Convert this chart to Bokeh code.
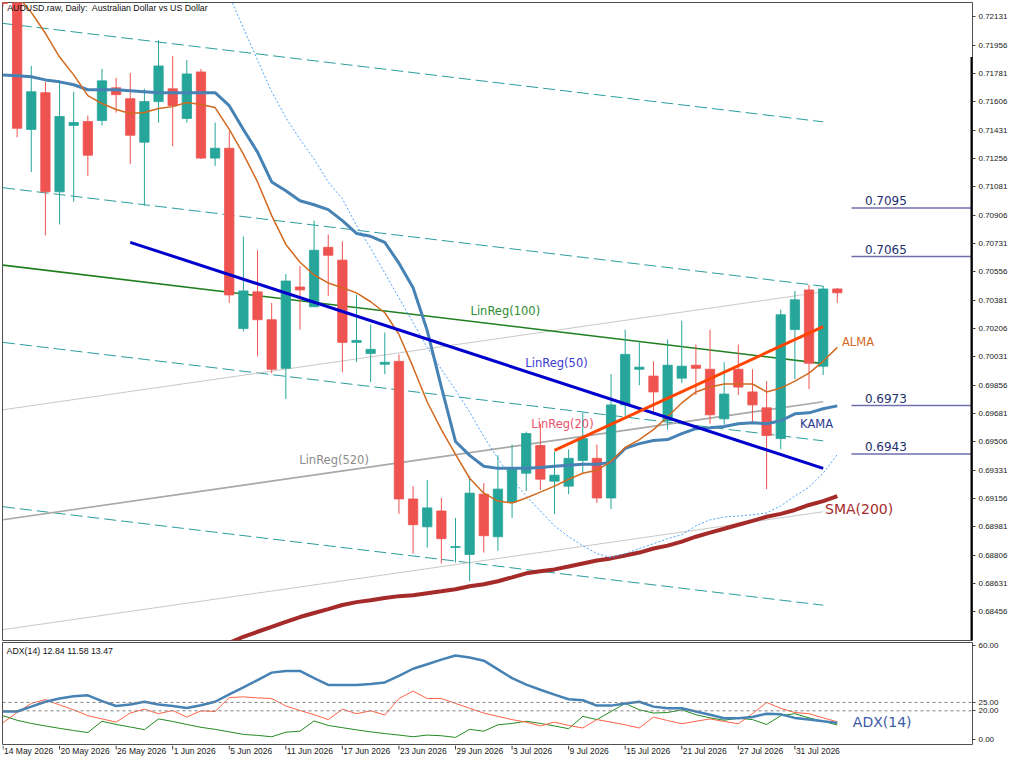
from bokeh.plotting import figure
from bokeh.models import Range1d, FixedTicker, NumeralTickFormatter, Label, Span, ColumnDataSource
from bokeh.layouts import column
from bokeh.embed import file_html
from bokeh.resources import INLINE
from bokeh.core.properties import value

# ---------------- data ----------------
opens = [0.72323, 0.72243, 0.71435, 0.71662, 0.71050, 0.71460, 0.71484, 0.71490, 0.71692, 0.71625,
         0.71356, 0.71607, 0.71686, 0.71503, 0.71790, 0.71258, 0.71319, 0.70205, 0.70432, 0.70260,
         0.69960, 0.70462, 0.70340, 0.70707, 0.70628, 0.70120, 0.70052, 0.69985, 0.70003, 0.69153,
         0.68981, 0.69079, 0.68853, 0.68810, 0.69183, 0.68920, 0.69134, 0.69312, 0.69483, 0.69263,
         0.69232, 0.69391, 0.69404, 0.69159, 0.69734, 0.69954, 0.69912, 0.69636, 0.69899, 0.69979,
         0.69954, 0.69648, 0.69954, 0.69814, 0.69716, 0.69526, 0.70199, 0.70444, 0.69973, 0.70450]
highs = [0.72353, 0.72280, 0.71827, 0.71729, 0.71723, 0.71668, 0.71521, 0.71809, 0.71754, 0.71784,
         0.71686, 0.71986, 0.71888, 0.71864, 0.71809, 0.71478, 0.71423, 0.70774, 0.70689, 0.70364,
         0.70542, 0.70591, 0.70872, 0.70787, 0.70744, 0.70413, 0.70230, 0.70181, 0.70046, 0.69232,
         0.69269, 0.69159, 0.69036, 0.69293, 0.69251, 0.69422, 0.69489, 0.69569, 0.69618, 0.69446,
         0.69459, 0.69685, 0.69489, 0.69924, 0.70199, 0.70120, 0.70003, 0.70138, 0.70254, 0.70107,
         0.70199, 0.69997, 0.70107, 0.69954, 0.69881, 0.70322, 0.70438, 0.70475, 0.70469, 0.70456]
lows = [0.72194, 0.71386, 0.71172, 0.70781, 0.70848, 0.70989, 0.71148, 0.71460, 0.71539, 0.71221,
        0.70964, 0.71478, 0.71331, 0.71478, 0.71252, 0.71209, 0.70364, 0.70187, 0.70034, 0.69930,
        0.69771, 0.70199, 0.70340, 0.70407, 0.69936, 0.69997, 0.69875, 0.69924, 0.69061, 0.68816,
        0.68853, 0.68755, 0.68761, 0.68645, 0.68822, 0.68834, 0.69036, 0.69202, 0.69208, 0.69061,
        0.69183, 0.69312, 0.69128, 0.69091, 0.69667, 0.69856, 0.69679, 0.69581, 0.69869, 0.69795,
        0.69618, 0.69612, 0.69795, 0.69618, 0.69214, 0.69459, 0.69893, 0.69832, 0.69918, 0.70364]
closes = [0.72213, 0.71442, 0.71668, 0.71050, 0.71515, 0.71478, 0.71276, 0.71735, 0.71650, 0.71399,
          0.71607, 0.71827, 0.71582, 0.71778, 0.71258, 0.71319, 0.70413, 0.70438, 0.70260, 0.69954,
          0.70499, 0.70444, 0.70689, 0.70658, 0.70120, 0.70132, 0.70077, 0.69997, 0.69153, 0.68994,
          0.69098, 0.68908, 0.68859, 0.69189, 0.68926, 0.69214, 0.69342, 0.69557, 0.69275, 0.69300,
          0.69404, 0.69526, 0.69159, 0.69734, 0.70046, 0.69967, 0.69814, 0.69979, 0.69973, 0.69960,
          0.69673, 0.69801, 0.69844, 0.69734, 0.69545, 0.70291, 0.70383, 0.69991, 0.70450, 0.70426]

kama = [0.71772, 0.71766, 0.71760, 0.71741, 0.71729, 0.71711, 0.71680, 0.71680, 0.71680, 0.71674,
        0.71668, 0.71662, 0.71662, 0.71662, 0.71662, 0.71662, 0.71582, 0.71435, 0.71295, 0.71111,
        0.71056, 0.70995, 0.70970, 0.70940, 0.70872, 0.70793, 0.70775, 0.70738, 0.70609, 0.70457,
        0.70193, 0.69844, 0.69508, 0.69422, 0.69355, 0.69342, 0.69342, 0.69342, 0.69348, 0.69355,
        0.69361, 0.69367, 0.69367, 0.69379, 0.69465, 0.69495, 0.69514, 0.69520, 0.69557, 0.69587,
        0.69593, 0.69600, 0.69618, 0.69624, 0.69618, 0.69636, 0.69679, 0.69685, 0.69710, 0.69728]
alma = [0.72415, 0.72262, 0.72158, 0.72029, 0.71882, 0.71772, 0.71644, 0.71595, 0.71558, 0.71533,
        0.71540, 0.71564, 0.71576, 0.71601, 0.71589, 0.71570, 0.71435, 0.71283, 0.71111, 0.70903,
        0.70725, 0.70615, 0.70536, 0.70487, 0.70457, 0.70426, 0.70371, 0.70303, 0.70169, 0.69967,
        0.69752, 0.69581, 0.69428, 0.69281, 0.69189, 0.69140, 0.69128, 0.69159, 0.69195, 0.69232,
        0.69275, 0.69312, 0.69330, 0.69385, 0.69471, 0.69520, 0.69581, 0.69661, 0.69746, 0.69814,
        0.69844, 0.69863, 0.69863, 0.69863, 0.69814, 0.69838, 0.69881, 0.69930, 0.70003, 0.70089]
# bars 16..59
band_dotted = [0.72262, 0.72060, 0.71864, 0.71668, 0.71509, 0.71374, 0.71252, 0.71111, 0.71007, 0.70842,
               0.70701, 0.70548, 0.70395, 0.70242, 0.70089, 0.69954, 0.69826, 0.69691, 0.69538, 0.69404,
               0.69275, 0.69171, 0.69079, 0.68987, 0.68920, 0.68865, 0.68816, 0.68791, 0.68816, 0.68847,
               0.68877, 0.68908, 0.68932, 0.68987, 0.69024, 0.69042, 0.69048, 0.69055, 0.69067, 0.69110,
               0.69171, 0.69226, 0.69312, 0.69428]
sma200 = [0.68265, 0.68302, 0.68333, 0.68363, 0.68394, 0.68424, 0.68449, 0.68473, 0.68498, 0.68516,
          0.68528, 0.68541, 0.68553, 0.68559, 0.68571, 0.68583, 0.68596, 0.68614, 0.68626, 0.68645,
          0.68669, 0.68694, 0.68706, 0.68718, 0.68736, 0.68755, 0.68773, 0.68786, 0.68804, 0.68822,
          0.68847, 0.68865, 0.68890, 0.68920, 0.68945, 0.68969, 0.68994, 0.69018, 0.69043, 0.69061,
          0.69085, 0.69116, 0.69140, 0.69171]

# regression lines: (start bar, start price, end bar, end price)
linreg100 = (0, 0.70597, 58, 0.69989)
chan100 = [(0, 0.72090, 58, 0.71482), (0, 0.71075, 58, 0.70467),
           (0, 0.70120, 58, 0.69512), (0, 0.69105, 58, 0.68497)]
linreg50 = (9, 0.70738, 58, 0.69342)
linreg20 = (39, 0.69453, 58, 0.70218)
linreg520 = (0, 0.69025, 58, 0.69753)
chan520 = [(0, 0.69704, 58, 0.70432), (0, 0.68346, 58, 0.69074)]

fib_levels = [0.7095, 0.7065, 0.6973, 0.6943]
fib_labels = ["0.7095", "0.7065", "0.6973", "0.6943"]

price_ticks = [0.72131, 0.71956, 0.71781, 0.71606, 0.71431, 0.71256, 0.71081, 0.70906, 0.70731,
               0.70556, 0.70381, 0.70206, 0.70031, 0.69856, 0.69681, 0.69506, 0.69331, 0.69156,
               0.68981, 0.68806, 0.68631, 0.68456]

adx = [19.6, 19.6, 22.5, 25.4, 27.3, 28.7, 29.2, 25.8, 22.9, 23.8, 25.4, 23.8, 22.9, 21.7, 23.3,
       25.4, 29.8, 34.0, 38.3, 42.7, 43.7, 43.7, 39.4, 35.4, 35.4, 35.4, 36.0, 36.9, 40.8, 45.0,
       47.7, 50.4, 52.9, 51.7, 49.8, 44.6, 39.4, 35.6, 32.5, 29.6, 26.9, 26.3, 23.1, 23.1, 24.4,
       25.4, 22.5, 21.5, 21.5, 19.6, 17.7, 15.6, 15.6, 16.3, 18.3, 17.9, 15.8, 14.8, 13.8, 12.84]
plus_di = [17.1, 14.4, 12.5, 11.0, 9.6, 8.3, 7.1, 13.8, 11.9, 10.4, 8.8, 15.2, 13.7, 11.9, 10.2,
           9.0, 7.5, 6.0, 5.4, 4.6, 7.3, 7.9, 14.0, 11.3, 10.0, 8.7, 7.5, 6.5, 5.6, 4.6,
           5.6, 5.2, 4.2, 9.0, 7.9, 11.7, 12.5, 13.8, 12.5, 11.0, 9.4, 16.7, 14.8, 19.6, 24.4,
           20.6, 18.7, 19.0, 20.6, 17.7, 15.8, 14.4, 15.6, 14.8, 11.9, 17.1, 18.3, 15.8, 13.8, 11.58]
minus_di = [12.9, 19.0, 24.4, 26.7, 23.5, 20.6, 17.1, 15.2, 13.3, 18.7, 21.0, 18.3, 20.2, 16.3, 20.0,
            19.6, 27.9, 28.3, 27.7, 27.3, 22.9, 20.2, 17.7, 14.8, 21.0, 18.3, 20.0, 17.5, 27.3, 31.7,
            27.3, 27.3, 24.4, 21.5, 18.7, 16.7, 14.8, 13.3, 11.0, 13.3, 11.3, 9.8, 14.8, 13.3, 11.7,
            9.8, 16.3, 14.2, 12.3, 13.8, 15.2, 13.7, 12.3, 18.3, 25.0, 21.5, 19.0, 18.3, 15.8, 13.47]
# the panel's edge labels sit slightly inside the frame, as in the reference
adx_tick_pos = [2.8, 20, 25, 58.6]
adx_tick_labels = ["0.00", "20.00", "25.00", "60.00"]

date_idx = [0, 4, 8, 12, 16, 20, 24, 28, 32, 36, 40, 44, 48, 52, 56]
date_labels = ["14 May 2026", "20 May 2026", "26 May 2026", "1 Jun 2026", "5 Jun 2026",
               "11 Jun 2026", "17 Jun 2026", "23 Jun 2026", "29 Jun 2026", "3 Jul 2026",
               "9 Jul 2026", "15 Jul 2026", "21 Jul 2026", "27 Jul 2026", "31 Jul 2026"]

# ---------------- styling ----------------
UP = "#26a69a"
DN = "#ef5350"
FW = 970
XR = Range1d(-0.035, 68.56)
AXF = "Liberation Sans"
LBF = "DejaVu Sans"

idx = list(range(len(opens)))
up = [i for i in idx if closes[i] >= opens[i]]
dn = [i for i in idx if closes[i] < opens[i]]


def style_yaxis(fig, ticks):
    ax = fig.yaxis[0]
    ax.ticker = FixedTicker(ticks=ticks)
    ax.major_label_text_font_size = "8px"
    ax.major_label_text_font = AXF
    ax.major_label_text_color = "#202020"
    ax.axis_line_color = None
    ax.major_tick_in = 0
    ax.major_tick_out = 3
    ax.major_tick_line_color = "#404040"
    ax.minor_tick_line_color = None
    ax.major_label_standoff = 3


p = figure(frame_width=FW, frame_height=638, x_range=XR, y_range=Range1d(0.68279, 0.72219),
           output_backend="svg", toolbar_location=None, x_axis_location=None,
           y_axis_location="right", min_border=0, min_border_top=2, min_border_left=2,
           min_border_bottom=1)
p.grid.visible = False
p.outline_line_color = "#505050"
style_yaxis(p, price_ticks)
p.yaxis.formatter = NumeralTickFormatter(format="0.00000")

# channel lines
for (x0, y0, x1, y1) in chan100:
    p.line([x0, x1], [y0, y1], line_color="#2a9d9d", line_width=1, line_dash="12 5")
for (x0, y0, x1, y1) in chan520:
    p.line([x0, x1], [y0, y1], line_color="#c8c8c8", line_width=1)
p.line([linreg520[0], linreg520[2]], [linreg520[1], linreg520[3]], line_color="#a8a8a8", line_width=1.6)
p.line([linreg100[0], linreg100[2]], [linreg100[1], linreg100[3]], line_color="#1f7f1f", line_width=1.6)

# SMA and dotted band
p.line(list(range(16, 60)), sma200, line_color="#a52a2a", line_width=4)
p.line(list(range(16, 60)), band_dotted, line_color="#4da3ff", line_width=1, line_dash="2 2")

# candles
src_up = ColumnDataSource(dict(x=up, o=[opens[i] for i in up], h=[highs[i] for i in up],
                               l=[lows[i] for i in up], c=[closes[i] for i in up]))
src_dn = ColumnDataSource(dict(x=dn, o=[opens[i] for i in dn], h=[highs[i] for i in dn],
                               l=[lows[i] for i in dn], c=[closes[i] for i in dn]))
p.segment(x0="x", y0="h", x1="x", y1="l", source=src_up, line_color=UP, line_width=1)
p.segment(x0="x", y0="h", x1="x", y1="l", source=src_dn, line_color=DN, line_width=1)
p.vbar(x="x", top="c", bottom="o", width=0.66, source=src_up, fill_color=UP, line_color=UP, line_width=0.8)
p.vbar(x="x", top="o", bottom="c", width=0.66, source=src_dn, fill_color=DN, line_color=DN, line_width=0.8)

# moving averages
p.line(idx, kama, line_color="#4682b4", line_width=3)
p.line(idx, alma, line_color="#d2691e", line_width=1.5)
p.line([linreg50[0], linreg50[2]], [linreg50[1], linreg50[3]], line_color="#0000cd", line_width=3)
p.line([linreg20[0], linreg20[2]], [linreg20[1], linreg20[3]], line_color="#ff4500", line_width=3)

# fib levels
for lv, lb in zip(fib_levels, fib_labels):
    p.segment(x0=[60.0], y0=[lv], x1=[68.6], y1=[lv], line_color="#6f6fae", line_width=1.5)
    p.add_layout(Label(x=60.95, y=lv + 0.00044, text=lb, text_font=LBF, text_font_size="12px",
                       text_color="#23306e", text_baseline="middle", text_align="left"))

# right edge marker
p.segment(x0=[68.56], y0=[0.71882], x1=[68.56], y1=[0.68279], line_color="black", line_width=4)


def lab(fig, x, y, text, color, size, font=LBF):
    fig.add_layout(Label(x=x, y=y, text=text, text_color=color, text_font=font,
                         text_font_size=size, text_baseline="middle", text_align="left"))


lab(p, 0.3, 0.72188, "AUDUSD.raw, Daily:\u00a0 Australian Dollar vs US Dollar", "#101010", "8.8px", AXF)
lab(p, 33.06, 0.70316, "LinReg(100)", "#2e8b2e", "11.5px")
lab(p, 36.94, 0.69992, "LinReg(50)", "#3a3ad0", "11.5px")
lab(p, 37.36, 0.69619, "LinReg(20)", "#e8506a", "11.5px")
lab(p, 20.95, 0.69392, "LinReg(520)", "#8c8c8c", "11.5px")
lab(p, 59.33, 0.70120, "ALMA", "#d2691e", "11.5px")
lab(p, 56.37, 0.69619, "KAMA", "#2b3b8f", "11.5px")
lab(p, 58.13, 0.69092, "SMA(200)", "#a52a2a", "14px")

# ---------------- ADX panel ----------------
q = figure(frame_width=FW, frame_height=103, x_range=XR, y_range=Range1d(-0.6, 60.6),
           output_backend="svg", toolbar_location=None, y_axis_location="right",
           x_axis_location=None, min_border=0, min_border_left=2, min_border_top=1)
q.grid.visible = False
q.outline_line_color = "#505050"
style_yaxis(q, adx_tick_pos)
q.yaxis.major_label_overrides = dict(zip(adx_tick_pos, adx_tick_labels))

for lv in (20, 25):
    q.add_layout(Span(location=lv, dimension="width", line_color="#808080", line_dash="3 3", line_width=1))

q.line(idx, plus_di, line_color="#228b22", line_width=1)
q.line(idx, minus_di, line_color="#ff6347", line_width=1)
q.line(idx, adx, line_color="#4682b4", line_width=2.5)

lab(q, 0.25, 55.6, "ADX(14) 12.84 11.58 13.47", "#101010", "8.8px", AXF)
lab(q, 60.1, 13.3, "ADX(14)", "#3c5aa6", "14px")

# ---------------- date strip ----------------
r = figure(frame_width=FW, frame_height=12, x_range=XR, y_range=Range1d(0, 12),
           output_backend="svg", toolbar_location=None, x_axis_location=None,
           y_axis_location=None, min_border=0, min_border_left=2)
r.grid.visible = False
r.outline_line_color = None
r.segment(x0=date_idx, y0=[12] * len(date_idx), x1=date_idx, y1=[8] * len(date_idx),
          line_color="#404040", line_width=1)
r.text(x=[d + 0.07 for d in date_idx], y=[11.5] * len(date_idx), text=date_labels,
       text_font=value(AXF), text_font_size="8.5px", text_color="#202020",
       text_baseline="top", text_align="left")

layout = column(p, q, r, spacing=0)
open("out.html", "w").write(file_html(layout, INLINE))
